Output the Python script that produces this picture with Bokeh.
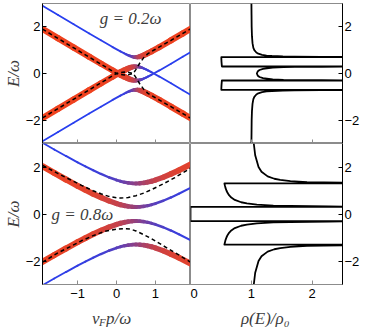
from bokeh.plotting import figure
from bokeh.layouts import gridplot
from bokeh.models import Range1d, FixedTicker, Label, ColumnDataSource
from bokeh.embed import file_html
from bokeh.resources import INLINE

# ---------------- data ----------------
# top row: g = 0.2 omega
p_top = [-1.9, -1.5, -1.1, -0.7, -0.4, -0.1, 0.1, 0.2, 0.25, 0.3, 0.35, 0.4, 0.45,
         0.5, 0.55, 0.6, 0.65, 0.7, 0.75, 0.8, 0.9, 1.1, 1.4, 1.7, 1.9]
E_top_Ap = [2.908, 2.510, 2.112, 1.717, 1.422, 1.132, 0.947, 0.861, 0.820, 0.783, 0.750, 0.724, 0.706,
            0.700, 0.706, 0.724, 0.750, 0.783, 0.820, 0.861, 0.947, 1.132, 1.422, 1.717, 1.914]
E_top_Am = [-1.908, -1.510, -1.112, -0.717, -0.422, -0.132, 0.053, 0.139, 0.180, 0.217, 0.250, 0.276, 0.294,
            0.300, 0.294, 0.276, 0.250, 0.217, 0.180, 0.139, 0.053, -0.132, -0.422, -0.717, -0.914]
E_top_Bp = [1.908, 1.510, 1.112, 0.717, 0.422, 0.132, -0.053, -0.139, -0.180, -0.217, -0.250, -0.276, -0.294,
            -0.300, -0.294, -0.276, -0.250, -0.217, -0.180, -0.139, -0.053, 0.132, 0.422, 0.717, 0.914]
E_top_Bm = [-2.908, -2.510, -2.112, -1.717, -1.422, -1.132, -0.947, -0.861, -0.820, -0.783, -0.750, -0.724, -0.706,
            -0.700, -0.706, -0.724, -0.750, -0.783, -0.820, -0.861, -0.947, -1.132, -1.422, -1.717, -1.914]
# electron weight (red = 1, blue = 0)
w_top_Ap = [0.002, 0.002, 0.004, 0.007, 0.012, 0.026, 0.053, 0.084, 0.110, 0.146, 0.200, 0.276, 0.379,
            0.500, 0.621, 0.724, 0.800, 0.854, 0.890, 0.916, 0.947, 0.974, 0.988, 0.993, 0.996]
w_top_Am = [0.998, 0.998, 0.996, 0.993, 0.988, 0.974, 0.947, 0.916, 0.890, 0.854, 0.800, 0.724, 0.621,
            0.500, 0.379, 0.276, 0.200, 0.146, 0.110, 0.084, 0.053, 0.026, 0.012, 0.007, 0.004]
w_top_Bp = [0.998, 0.998, 0.996, 0.993, 0.988, 0.974, 0.947, 0.916, 0.890, 0.854, 0.800, 0.724, 0.621,
            0.500, 0.379, 0.276, 0.200, 0.146, 0.110, 0.084, 0.053, 0.026, 0.012, 0.007, 0.004]
w_top_Bm = [0.002, 0.002, 0.004, 0.007, 0.012, 0.026, 0.053, 0.084, 0.110, 0.146, 0.200, 0.276, 0.379,
            0.500, 0.621, 0.724, 0.800, 0.854, 0.890, 0.916, 0.947, 0.974, 0.988, 0.993, 0.996]

dash_top_p = [-1.9, -1.0, -0.5, -0.2, 0.0, 0.1, 0.2, 0.3, 0.43, 0.5, 0.6, 0.7, 0.8, 0.9, 1.0, 1.4, 1.9]
dash_top_up = [1.9, 1.0, 0.5, 0.2, 0.0, 0.04, 0.06, 0.05, 0.0, 0.18, 0.45, 0.68, 0.84, 0.95, 1.04, 1.42, 1.91]
dash_top_lo = [-1.9, -1.0, -0.5, -0.2, 0.0, -0.04, -0.06, -0.05, 0.0, -0.18, -0.45, -0.68, -0.84, -0.95, -1.04, -1.42, -1.91]

# bottom row: g = 0.8 omega
p_bot = [-1.9, -1.6, -1.3, -1.0, -0.8, -0.6, -0.4, -0.2, 0.0, 0.1, 0.2, 0.3,
         0.4, 0.5, 0.6, 0.7, 0.8, 0.9, 1.0, 1.2, 1.4, 1.6, 1.9]
E_bot_Ap = [3.030, 2.747, 2.470, 2.200, 2.026, 1.860, 1.704, 1.563, 1.443, 1.394, 1.354, 1.325,
            1.306, 1.300, 1.306, 1.325, 1.354, 1.394, 1.443, 1.563, 1.704, 1.860, 2.113]
E_bot_Am = [-2.030, -1.747, -1.470, -1.200, -1.026, -0.860, -0.704, -0.563, -0.443, -0.394, -0.354, -0.325,
            -0.306, -0.300, -0.306, -0.325, -0.354, -0.394, -0.443, -0.563, -0.704, -0.860, -1.113]
E_bot_Bp = [2.030, 1.747, 1.470, 1.200, 1.026, 0.860, 0.704, 0.563, 0.443, 0.394, 0.354, 0.325,
            0.306, 0.300, 0.306, 0.325, 0.354, 0.394, 0.443, 0.563, 0.704, 0.860, 1.113]
E_bot_Bm = [-3.030, -2.747, -2.470, -2.200, -2.026, -1.860, -1.704, -1.563, -1.443, -1.394, -1.354, -1.325,
            -1.306, -1.300, -1.306, -1.325, -1.354, -1.394, -1.443, -1.563, -1.704, -1.860, -2.113]
w_bot_Ap = [0.026, 0.033, 0.043, 0.059, 0.074, 0.096, 0.126, 0.171, 0.235, 0.276, 0.324, 0.379,
            0.438, 0.500, 0.562, 0.621, 0.676, 0.724, 0.765, 0.829, 0.874, 0.904, 0.934]
w_bot_Am = [0.974, 0.967, 0.957, 0.941, 0.926, 0.904, 0.874, 0.829, 0.765, 0.724, 0.676, 0.621,
            0.562, 0.500, 0.438, 0.379, 0.324, 0.276, 0.235, 0.171, 0.126, 0.096, 0.066]
w_bot_Bp = [0.974, 0.967, 0.957, 0.941, 0.926, 0.904, 0.874, 0.829, 0.765, 0.724, 0.676, 0.621,
            0.562, 0.500, 0.438, 0.379, 0.324, 0.276, 0.235, 0.171, 0.126, 0.096, 0.066]
w_bot_Bm = [0.026, 0.033, 0.043, 0.059, 0.074, 0.096, 0.126, 0.171, 0.235, 0.276, 0.324, 0.379,
            0.438, 0.500, 0.562, 0.621, 0.676, 0.724, 0.765, 0.829, 0.874, 0.904, 0.934]

dash_bot_up_p = [-1.9, -1.5, -1.2, -0.9, -0.6, -0.4, -0.2, 0.0, 0.12, 0.3, 0.5, 0.7, 0.9, 1.2, 1.5, 1.9]
dash_bot_up_E = [2.07, 1.72, 1.47, 1.22, 0.99, 0.86, 0.75, 0.69, 0.68, 0.70, 0.78, 0.89, 1.04, 1.28, 1.55, 1.95]
dash_bot_lo_p = [-1.9, -1.5, -1.2, -0.9, -0.6, -0.3, 0.0, 0.2, 0.35, 0.5, 0.7, 0.9, 1.2, 1.5, 1.9]
dash_bot_lo_E = [-2.05, -1.65, -1.40, -1.14, -0.92, -0.74, -0.64, -0.62, -0.64, -0.72, -0.88, -1.05, -1.35, -1.64, -2.05]

# density of states (values beyond 2.5 run off the frame)
dos_top_E = [3.0, 2.5, 2.0, 1.6, 1.3, 1.1, 1.0, 0.9, 0.85, 0.8, 0.77, 0.75, 0.73, 0.72, 0.71, 0.705, 0.7,
             0.7, 0.6, 0.5, 0.4, 0.3,
             0.3, 0.295, 0.29, 0.28, 0.27, 0.25, 0.2, 0.15, 0.1, 0.0,
             -0.1, -0.15, -0.2, -0.25, -0.27, -0.28, -0.29, -0.295, -0.3,
             -0.3, -0.4, -0.5, -0.6, -0.7,
             -0.7, -0.705, -0.71, -0.72, -0.73, -0.75, -0.77, -0.8, -0.85, -0.9, -1.0, -1.1, -1.3, -1.6, -2.0, -2.5, -3.0]
dos_top_rho = [1.002, 1.004, 1.006, 1.011, 1.020, 1.034, 1.050, 1.083, 1.115, 1.177, 1.251, 1.340, 1.519, 1.707, 2.147, 2.785, 4.0,
               0.507, 0.508, 0.510, 0.513, 0.516,
               4.0, 2.794, 2.157, 1.718, 1.530, 1.352, 1.193, 1.135, 1.108, 1.091,
               1.108, 1.135, 1.193, 1.352, 1.530, 1.718, 2.157, 2.794, 4.0,
               0.516, 0.513, 0.510, 0.508, 0.507,
               4.0, 2.785, 2.147, 1.707, 1.519, 1.340, 1.251, 1.177, 1.115, 1.083, 1.050, 1.034, 1.020, 1.011, 1.006, 1.004, 1.002]

dos_bot_E = [3.0, 2.5, 2.0, 1.8, 1.6, 1.5, 1.45, 1.4, 1.36, 1.34, 1.32, 1.3,
             1.3, 1.2, 1.1, 1.0, 0.9, 0.8, 0.7, 0.6, 0.5, 0.45, 0.4, 0.36, 0.34, 0.32, 0.31, 0.3,
             0.3, -0.3,
             -0.3, -0.31, -0.32, -0.34, -0.36, -0.4, -0.45, -0.5, -0.6, -0.7, -0.8, -0.9, -1.0, -1.1, -1.2, -1.3,
             -1.3, -1.32, -1.34, -1.36, -1.4, -1.45, -1.5, -1.6, -1.8, -2.0, -2.5, -3.0]
dos_bot_rho = [1.041, 1.064, 1.119, 1.168, 1.269, 1.379, 1.475, 1.643, 1.916, 2.195, 2.834, 4.0,
               0.558, 0.567, 0.577, 0.591, 0.609, 0.634, 0.671, 0.729, 0.833, 0.927, 1.091, 1.363, 1.640, 2.278, 3.19, 4.0,
               0.0, 0.0,
               4.0, 3.19, 2.278, 1.640, 1.363, 1.091, 0.927, 0.833, 0.729, 0.671, 0.634, 0.609, 0.591, 0.577, 0.567, 0.558,
               4.0, 2.834, 2.195, 1.916, 1.643, 1.475, 1.379, 1.269, 1.168, 1.119, 1.064, 1.041]

E_ticks = [-2, 0, 2]
p_ticks = [-1, 0, 1]
rho_ticks = [0, 1, 2]

# ---------------- styling helpers ----------------
RED = (240, 66, 30)
BLUE = (38, 62, 240)
GRAY = "#8c8c8c"
TXT = "#3c3c3c"
SERIF = "Liberation Serif"

P_MIN, P_MAX = -1.9, 1.9
R_MIN, R_MAX = 0.0, 2.5
E_MIN, E_MAX = -3.0, 3.0

B_LEFT, FW_L, FW_R, B_RIGHT = 35, 155, 157, 15
B_TOP, FH_T, FH_B, B_BOT, STRIP_H = 3, 140, 141, 19, 24


def mix(w):
    c = [int(round(b + (r - b) * w)) for r, b in zip(RED, BLUE)]
    return "#%02x%02x%02x" % tuple(c)


def draw_bands(fig, p, branches):
    segs = []
    for E, w in branches:
        for i in range(len(p) - 1):
            wm = 0.5 * (w[i] + w[i + 1])
            segs.append((wm, [p[i], p[i + 1]], [E[i], E[i + 1]]))
    segs.sort(key=lambda s: s[0])
    src = ColumnDataSource(dict(
        xs=[s[1] for s in segs], ys=[s[2] for s in segs],
        color=[mix(s[0]) for s in segs],
        width=[1.7 + 4.6 * s[0] for s in segs]))
    fig.multi_line("xs", "ys", source=src, line_color="color", line_width="width",
                   line_cap="round", line_join="round")


def style_axis(ax, ticks, show_labels, line_color, standoff=3):
    ax.ticker = FixedTicker(ticks=ticks)
    ax.major_tick_in = 4
    ax.major_tick_out = 0
    ax.minor_tick_line_color = None
    ax.axis_line_color = line_color
    ax.major_tick_line_color = line_color
    ax.major_label_text_font = "Liberation Sans"
    if show_labels:
        ax.major_label_text_color = "black"
        ax.major_label_text_font_size = "13px"
        ax.major_label_standoff = standoff
    else:
        ax.major_label_text_color = None
        ax.major_label_text_font_size = "1px"
        ax.major_label_standoff = 0


def e_axis_title(ax):
    ax.axis_label = "E/ω"
    ax.axis_label_text_font = SERIF
    ax.axis_label_text_font_style = "italic"
    ax.axis_label_text_font_size = "17px"
    ax.axis_label_text_color = TXT
    ax.axis_label_standoff = 0


def base_fig(xr, yr, w, h, yloc, mb_left, mb_right, mb_top, mb_bottom, bare=False):
    kw = dict(x_axis_location=None, y_axis_location=None) if bare else dict(y_axis_location=yloc)
    f = figure(width=w, height=h, x_range=xr, y_range=yr,
               output_backend="svg", toolbar_location=None,
               min_border_left=mb_left, min_border_right=mb_right,
               min_border_top=mb_top, min_border_bottom=mb_bottom, **kw)
    f.xgrid.visible = False
    f.ygrid.visible = False
    f.outline_line_color = None if bare else GRAY
    f.outline_line_width = 1
    f.background_fill_color = "white"
    f.border_fill_color = "white"
    return f


def serif_label(fig, x, y, text, size, align="left", baseline="alphabetic"):
    fig.add_layout(Label(x=x, y=y, text=text, text_font=SERIF, text_font_style="italic",
                         text_font_size=size, text_color=TXT, text_align=align, text_baseline=baseline))


p_range_t = Range1d(P_MIN, P_MAX)
p_range_b = Range1d(P_MIN, P_MAX)
r_range_t = Range1d(R_MIN, R_MAX)
r_range_b = Range1d(R_MIN, R_MAX)

# ---------------- top-left ----------------
tl = base_fig(p_range_t, Range1d(E_MIN, E_MAX), B_LEFT + FW_L, B_TOP + FH_T, "left", B_LEFT, 0, B_TOP, 0)
style_axis(tl.yaxis[0], E_ticks, True, "black", 2)
e_axis_title(tl.yaxis[0])
style_axis(tl.xaxis[0], p_ticks, False, GRAY)
draw_bands(tl, p_top, [(E_top_Ap, w_top_Ap), (E_top_Am, w_top_Am),
                       (E_top_Bp, w_top_Bp), (E_top_Bm, w_top_Bm)])
tl.line(dash_top_p, dash_top_up, line_color="black", line_width=1.5, line_dash="4 3")
tl.line(dash_top_p, dash_top_lo, line_color="black", line_width=1.5, line_dash="4 3")
serif_label(tl, 0.36, 2.37, "g = 0.2ω", "17px", "center", "middle")

# ---------------- top-right ----------------
tr = base_fig(r_range_t, Range1d(E_MIN, E_MAX), FW_R + B_RIGHT, B_TOP + FH_T, "right", 0, B_RIGHT, B_TOP, 0)
style_axis(tr.yaxis[0], E_ticks, True, "black", 2)
tr.yaxis[0].major_label_overrides = {-2: "−2"}
style_axis(tr.xaxis[0], rho_ticks, False, GRAY)
tr.line(dos_top_rho, dos_top_E, line_color="black", line_width=1.8, line_join="round")

# ---------------- bottom-left ----------------
bl = base_fig(p_range_b, Range1d(E_MIN, E_MAX), B_LEFT + FW_L, FH_B + B_BOT, "left", B_LEFT, 0, 0, B_BOT)
style_axis(bl.yaxis[0], E_ticks, True, "black", 2)
e_axis_title(bl.yaxis[0])
style_axis(bl.xaxis[0], p_ticks, True, GRAY, 4)
draw_bands(bl, p_bot, [(E_bot_Ap, w_bot_Ap), (E_bot_Am, w_bot_Am),
                       (E_bot_Bp, w_bot_Bp), (E_bot_Bm, w_bot_Bm)])
bl.line(dash_bot_up_p, dash_bot_up_E, line_color="black", line_width=1.5, line_dash="4 3")
bl.line(dash_bot_lo_p, dash_bot_lo_E, line_color="black", line_width=1.5, line_dash="4 3")
serif_label(bl, -1.67, 0.0, "g = 0.8ω", "17px", "left", "middle")

# ---------------- bottom-right ----------------
br = base_fig(r_range_b, Range1d(E_MIN, E_MAX), FW_R + B_RIGHT, FH_B + B_BOT, "right", 0, B_RIGHT, 0, B_BOT)
style_axis(br.yaxis[0], E_ticks, True, "black", 2)
br.yaxis[0].major_label_overrides = {-2: "−2"}
style_axis(br.xaxis[0], rho_ticks, True, GRAY, 4)
br.line(dos_bot_rho, dos_bot_E, line_color="black", line_width=1.8, line_join="round")

# ---------------- x-axis title strips (texts live inside their own frames) ----------------
xl_l = base_fig(p_range_b, Range1d(0, 1), B_LEFT + FW_L, STRIP_H, None, B_LEFT, 0, 0, 0, bare=True)
serif_label(xl_l, -0.63, 1 - 15.0 / STRIP_H, "v", "17px")
serif_label(xl_l, -0.45, 1 - 18.0 / STRIP_H, "F", "11px")
serif_label(xl_l, -0.27, 1 - 15.0 / STRIP_H, "p/ω", "17px")
xl_r = base_fig(r_range_b, Range1d(0, 1), FW_R + B_RIGHT, STRIP_H, None, 0, B_RIGHT, 0, 0, bare=True)
serif_label(xl_r, 1.23, 1 - 15.0 / STRIP_H, "ρ(E)/ρ₀", "17px", "center")

grid = gridplot([[tl, tr], [bl, br], [xl_l, xl_r]], toolbar_location=None)

open("out.html", "w").write(file_html(grid, INLINE))
